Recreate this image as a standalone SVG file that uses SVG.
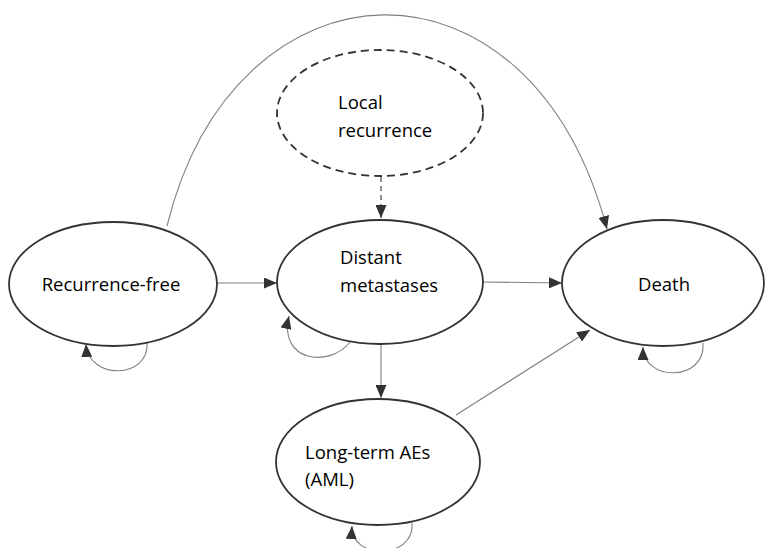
<svg xmlns="http://www.w3.org/2000/svg" width="766" height="548" viewBox="0 0 766 548">
<style>
.node{fill:#fff;stroke:#333;stroke-width:1.8}
.dash{stroke-dasharray:8,5}
.lbl{font-family:"Open Sans","Noto Sans",sans-serif;font-size:18.5px;fill:#000}
.edge{fill:none;stroke:#808080;stroke-width:1.1}
.dedge{fill:none;stroke:#555;stroke-width:1.3;stroke-dasharray:5,4}
</style>
<defs>
<marker id="ah" viewBox="0 0 13 11" refX="13" refY="5.5" markerWidth="13" markerHeight="11" markerUnits="userSpaceOnUse" orient="auto">
<path d="M0,0 L13,5.5 L0,11 Z" fill="#333"/>
</marker>
</defs>
<rect width="766" height="548" fill="#fff"/>
<g id="edges">
<path class="edge" d="M167,226 C235,-50 530,-62 607,229" marker-end="url(#ah)"/>
<path class="edge" d="M217,283 L277,283" marker-end="url(#ah)"/>
<path class="edge" d="M483,282 L562,283" marker-end="url(#ah)"/>
<path class="edge" d="M381,344 L381,398" marker-end="url(#ah)"/>
<path class="edge" d="M456,415 L590,330" marker-end="url(#ah)"/>
<path class="dedge" d="M381,177 L381,218" marker-end="url(#ah)"/>
<path class="edge" d="M147,342 C150,380 88,380 86,344" marker-end="url(#ah)"/>
<path class="edge" d="M350,342 C330,368 278,362 289,316" marker-end="url(#ah)"/>
<path class="edge" d="M703,343 C706,382 643,382 643,347" marker-end="url(#ah)"/>
<path class="edge" d="M412,523 C415,560 350,560 352,526" marker-end="url(#ah)"/>
</g>
<g id="local">
<ellipse class="node dash" cx="380" cy="113" rx="103" ry="63"/>
<text class="lbl" x="338" y="109">Local</text>
<text class="lbl" x="338" y="137">recurrence</text>
</g>
<g id="recfree">
<ellipse class="node" cx="113" cy="284" rx="104" ry="62"/>
<text class="lbl" x="111" y="291" text-anchor="middle">Recurrence-free</text>
</g>
<g id="distant">
<ellipse class="node" cx="380" cy="282" rx="103" ry="62"/>
<text class="lbl" x="340" y="264">Distant</text>
<text class="lbl" x="340" y="292">metastases</text>
</g>
<g id="death">
<ellipse class="node" cx="663" cy="283" rx="101" ry="63"/>
<text class="lbl" x="664" y="291" text-anchor="middle">Death</text>
</g>
<g id="longterm">
<ellipse class="node" cx="378" cy="462" rx="102" ry="63"/>
<text class="lbl" x="305" y="459">Long-term AEs</text>
<text class="lbl" x="305" y="486">(AML)</text>
</g>
</svg>
